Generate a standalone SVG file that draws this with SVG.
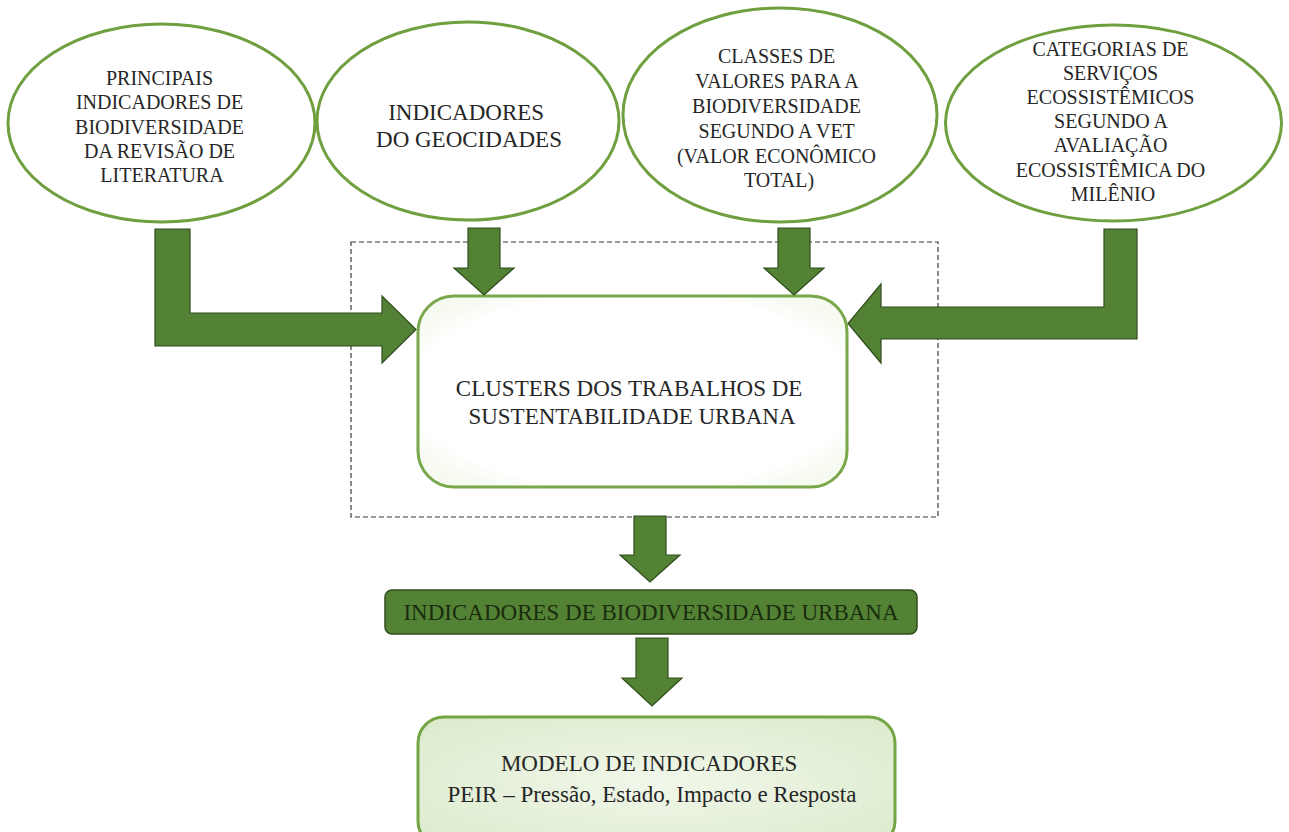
<svg xmlns="http://www.w3.org/2000/svg" width="1289" height="832" viewBox="0 0 1289 832">
  <defs>
    <radialGradient id="softFill" cx="50%" cy="50%" r="60%">
      <stop offset="0%" stop-color="#ffffff"/>
      <stop offset="85%" stop-color="#ffffff"/>
      <stop offset="100%" stop-color="#f6faf1"/>
    </radialGradient>
    <radialGradient id="modelFill" cx="50%" cy="50%" r="65%">
      <stop offset="0%" stop-color="#f1f7ea"/>
      <stop offset="100%" stop-color="#dcebcd"/>
    </radialGradient>
    <style>
      .oval { fill: url(#softFill); stroke: #6f9f3f; stroke-width: 3; }
      .box { fill: url(#softFill); stroke: #78a84a; stroke-width: 3; }
      .arrow { fill: #548235; stroke: #2f4c1d; stroke-width: 1.2; stroke-linejoin: miter; }
      .frame { fill: none; stroke: #3a3a3a; stroke-width: 1.2; stroke-dasharray: 5 3; }
      text { fill: #262626; text-anchor: middle; }
    </style>
  </defs>

  <rect width="1289" height="832" fill="#ffffff"/>

  <!-- grouping frame around the cluster stage -->
  <rect class="frame" x="351" y="242" width="587" height="275"/>

  <!-- source ovals -->
  <g id="node-literatura">
    <ellipse class="oval" cx="161.5" cy="123" rx="153.5" ry="99"/>
    <text font-family="Liberation Serif, Times New Roman, serif" font-size="20" x="162">
      <tspan x="162" y="85">PRINCIPAIS</tspan>
      <tspan x="162" y="109">INDICADORES DE</tspan>
      <tspan x="162" y="133.5">BIODIVERSIDADE</tspan>
      <tspan x="162" y="158">DA REVISÃO DE</tspan>
      <tspan x="162" y="182">LITERATURA</tspan>
    </text>
  </g>

  <g id="node-geocidades">
    <ellipse class="oval" cx="468" cy="121" rx="151" ry="99"/>
    <text font-family="Liberation Serif, Times New Roman, serif" font-size="23" x="469">
      <tspan x="469" y="120">INDICADORES</tspan>
      <tspan x="469" y="147">DO GEOCIDADES</tspan>
    </text>
  </g>

  <g id="node-vet">
    <ellipse class="oval" cx="780" cy="115" rx="157" ry="107"/>
    <text font-family="Liberation Serif, Times New Roman, serif" font-size="20" x="779">
      <tspan x="779" y="63">CLASSES DE</tspan>
      <tspan x="779" y="88">VALORES PARA A</tspan>
      <tspan x="779" y="113">BIODIVERSIDADE</tspan>
      <tspan x="779" y="138">SEGUNDO A VET</tspan>
      <tspan x="779" y="163">(VALOR ECONÔMICO</tspan>
      <tspan x="779" y="187">TOTAL)</tspan>
    </text>
  </g>

  <g id="node-servicos">
    <ellipse class="oval" cx="1113.5" cy="123" rx="168" ry="98"/>
    <text font-family="Liberation Serif, Times New Roman, serif" font-size="20" x="1113">
      <tspan x="1113" y="56">CATEGORIAS DE</tspan>
      <tspan x="1113" y="80">SERVIÇOS</tspan>
      <tspan x="1113" y="104">ECOSSISTÊMICOS</tspan>
      <tspan x="1113" y="128">SEGUNDO A</tspan>
      <tspan x="1113" y="152">AVALIAÇÃO</tspan>
      <tspan x="1113" y="177">ECOSSISTÊMICA DO</tspan>
      <tspan x="1113" y="201">MILÊNIO</tspan>
    </text>
  </g>

  <!-- central stage -->
  <g id="node-clusters">
    <rect class="box" x="418" y="296" width="429" height="191" rx="36" ry="36"/>
    <text font-family="Liberation Serif, Times New Roman, serif" font-size="23" x="632">
      <tspan x="632" y="396">CLUSTERS DOS TRABALHOS DE</tspan>
      <tspan x="632" y="424">SUSTENTABILIDADE URBANA</tspan>
    </text>
  </g>

  <g id="node-indicadores-urbanos">
    <rect x="385" y="590" width="532" height="44" rx="7" ry="7" fill="#548235" stroke="#2f4c1d" stroke-width="1.5"/>
    <text font-family="Liberation Serif, Times New Roman, serif" font-size="23" x="651" y="620" style="fill:#1a2c0e">INDICADORES DE BIODIVERSIDADE URBANA</text>
  </g>

  <g id="node-peir">
    <rect x="418" y="717" width="477" height="130" rx="26" ry="26" fill="url(#modelFill)" stroke="#74a545" stroke-width="3"/>
    <text font-family="Liberation Serif, Times New Roman, serif" font-size="23" x="652">
      <tspan x="652" y="771">MODELO DE INDICADORES</tspan>
      <tspan x="652" y="802">PEIR – Pressão, Estado, Impacto e Resposta</tspan>
    </text>
  </g>

  <!-- block arrows -->
  <g id="connectors">
    <polygon class="arrow" points="155,229 190,229 190,313 382,313 382,296 416,329.5 382,363 382,346 155,346"/>
    <polygon class="arrow" points="1137,229 1104,229 1104,307 881,307 881,284 848,323.5 881,363 881,339 1137,339"/>
    <polygon class="arrow" points="468,228 500,228 500,268 514,268 484,295 454,268 468,268"/>
    <polygon class="arrow" points="778,228 810,228 810,268 824,268 794,295 764,268 778,268"/>
    <polygon class="arrow" points="634,516 666,516 666,555 680,555 650,582 620,555 634,555"/>
    <polygon class="arrow" points="636,638 668,638 668,678 682,678 652,706 622,678 636,678"/>
  </g>
</svg>
